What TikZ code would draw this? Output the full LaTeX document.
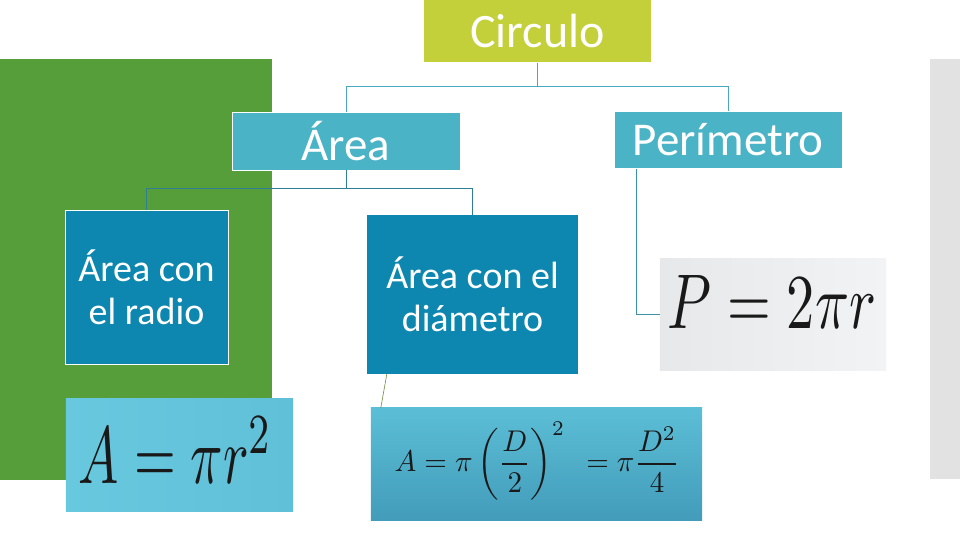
\documentclass[tikz,border=0pt]{standalone}
\usepackage[no-math]{fontspec}
\setmainfont{Carlito}
\usepackage{graphicx}
\usetikzlibrary{calc}
\definecolor{cgreen}{HTML}{559E3A}
\definecolor{cgray}{HTML}{E2E2E2}
\definecolor{clime}{HTML}{C3D03A}
\definecolor{cteal}{HTML}{4BB3C6}
\definecolor{cblue}{HTML}{0E87B0}
\definecolor{lineA}{HTML}{4AA8BC}
\definecolor{lineB}{HTML}{2E7E96}
\definecolor{lineC}{HTML}{3C93A8}
\definecolor{lineD}{HTML}{6B8E3F}
\begin{document}
\begin{tikzpicture}[x=1pt,y=-1pt,
  topbox/.style={fill=clime, text=white, inner sep=0pt, align=center,
    font=\fontsize{48}{52}\selectfont},
  midbox/.style={fill=cteal, draw=white, line width=0.8pt, text=white, inner sep=0pt,
    align=center, font=\fontsize{47}{52}\selectfont},
  lowbox/.style={fill=cblue, text=white, inner sep=0pt, align=center,
    font=\fontsize{38}{43}\selectfont},
  imgbox/.style={inner sep=0pt},
  formula/.style={inner sep=0pt, text=black!90},
  connA/.style={draw=lineA, line width=1pt},
  connB/.style={draw=lineB, line width=1pt},
  connC/.style={draw=lineC, line width=1pt},
  connD/.style={draw=lineD, line width=0.6pt}]
\useasboundingbox (0,0) rectangle (960,540);
\fill[white] (0,0) rectangle (960,540);
% background panels
\fill[cgreen] (0,59) rectangle (272,480);
\fill[cgray] (930,59) rectangle (960,479);

% nodes
\node[topbox, minimum width=227pt, minimum height=62pt] (circ) at (537.5,31.5) {Circulo};
\node[midbox, minimum width=228pt, minimum height=58pt] (area) at (346,141) {Área};
\node[midbox, minimum width=228pt, minimum height=57pt] (per) at (728,140) {Perímetro};
\node[lowbox, draw=white, line width=0.8pt, minimum width=163pt, minimum height=154pt] (radio) at (146.5,287) {Área con\\el radio};
\node[lowbox, minimum width=211pt, minimum height=159pt] (diam) at (472.5,294.5) {Área con el\\diámetro};

\node[imgbox, minimum width=227pt, minimum height=112pt] (fone) at (179.5,455) {};
\shade[left color={rgb,255:red,104;green,200;blue,222}, right color={rgb,255:red,96;green,192;blue,216}]
  (fone.south west) rectangle (fone.north east);
\node[formula] (fonet) at (176,450) {\resizebox{194pt}{66pt}{$A=\pi r^{2}$}};

\node[imgbox, minimum width=331pt, minimum height=112pt] (ftwo) at (536.5,464) {};
\shade[top color={rgb,255:red,92;green,190;blue,214}, bottom color={rgb,255:red,66;green,156;blue,186}]
  (ftwo.south west) rectangle (ftwo.north east);
\node[formula] (ftwot) at (537,461) {\resizebox*{285pt}{78pt}{$\displaystyle A=\pi\left(\frac{D}{2}\right)^{2}\;\,=\pi\frac{D^{2}}{4}$}};

\node[imgbox, minimum width=226pt, minimum height=111pt] (pbox) at (773,314.5) {};
\shade[left color={rgb,255:red,230;green,232;blue,233}, right color={rgb,255:red,242;green,243;blue,244}]
  (pbox.south west) rectangle (pbox.north east);
\node[formula] (pboxt) at (772,301.5) {\resizebox{208pt}{53pt}{$P=2\pi r$}};

% connectors
\coordinate (j1) at (537.5,87);
\coordinate (j2) at (346,188);
\path[connA] (circ.south) -- (j1) -| (area.north);
\path[connA] (j1) -| (per.north);
\path[connB] (area.south) -- (j2) -| (radio.north);
\path[connB] (j2) -| (diam.north);
\coordinate (pstart) at ($(per.south west)+(23,0)$);
\path[connC] (pstart) |- (pbox.west);
\path[connD] ($(diam.south west)+(20,0)$) -- ($(ftwo.north west)+(10,0)$);
\end{tikzpicture}
\end{document}
